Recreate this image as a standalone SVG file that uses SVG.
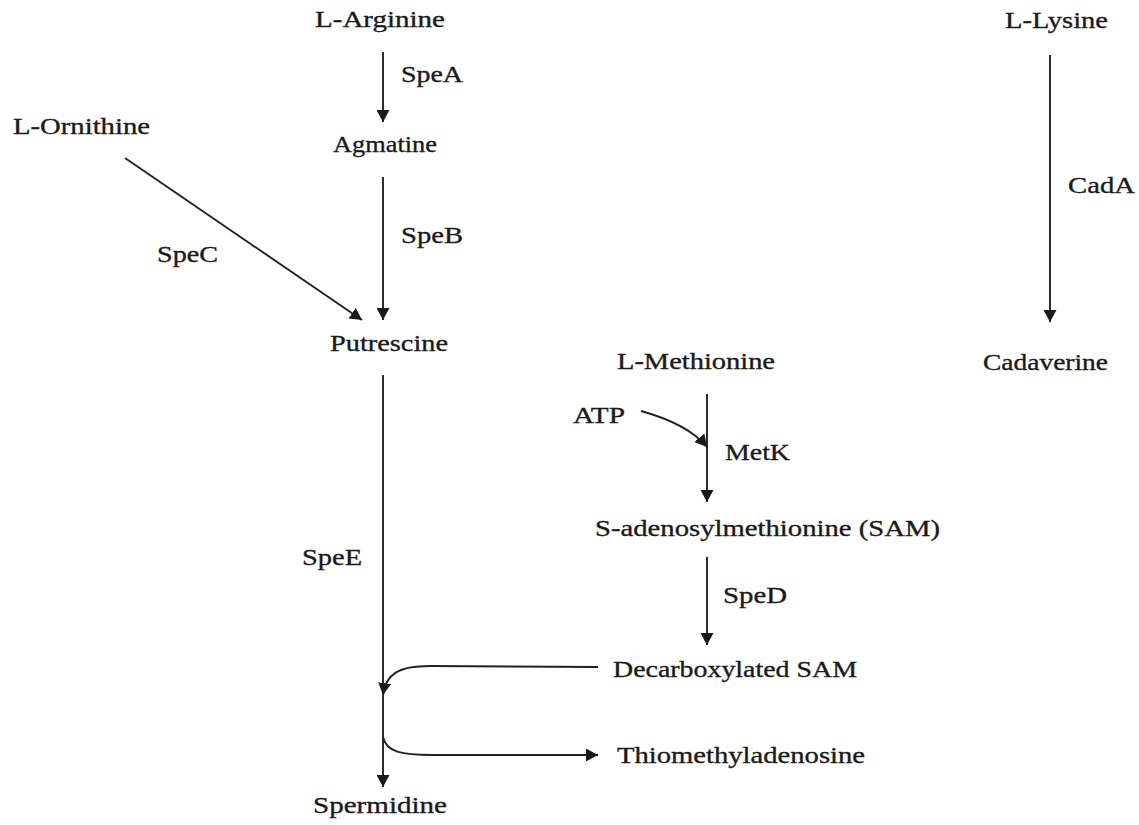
<svg xmlns="http://www.w3.org/2000/svg" width="1139" height="825" viewBox="0 0 1139 825">
<style>
text{font-family:"Liberation Serif","Times New Roman",serif;font-size:24px;fill:#1a1a1a;stroke:#1a1a1a;stroke-width:0.35}
.c{fill:none;stroke:#222;stroke-width:1.9}
</style>
<defs>
<marker id="ah" viewBox="0 0 12 13" refX="12" refY="6.5" markerWidth="12" markerHeight="13" markerUnits="userSpaceOnUse" orient="auto">
<path d="M0,0 L12,6.5 L0,13 z" fill="#1a1a1a"/>
</marker>
</defs>
<rect width="1139" height="825" fill="#fff"/>
<g id="connectors">
<path class="c" d="M383,52 V122" marker-end="url(#ah)"/>
<path class="c" d="M383,177 V320" marker-end="url(#ah)"/>
<path class="c" d="M125,158 L362,320" marker-end="url(#ah)"/>
<path class="c" d="M383,375 V787" marker-end="url(#ah)"/>
<path class="c" d="M598,667 L430,666 C398,666 386,674 383,695" marker-end="url(#ah)"/>
<path class="c" d="M383,737 C386,752 402,755 432,755 L598,755" marker-end="url(#ah)"/>
<path class="c" d="M707,394 V502" marker-end="url(#ah)"/>
<path class="c" d="M641,411 Q688,424 707,447" marker-end="url(#ah)"/>
<path class="c" d="M707,557 V645" marker-end="url(#ah)"/>
<path class="c" d="M1050,55 V322" marker-end="url(#ah)"/>
</g>
<g id="n-arginine"><text x="315" y="27" textLength="130" lengthAdjust="spacingAndGlyphs">L-Arginine</text></g>
<g id="l-spea"><text x="401" y="82" textLength="62" lengthAdjust="spacingAndGlyphs">SpeA</text></g>
<g id="n-agmatine"><text x="333" y="152" textLength="104" lengthAdjust="spacingAndGlyphs">Agmatine</text></g>
<g id="n-ornithine"><text x="13" y="134" textLength="137" lengthAdjust="spacingAndGlyphs">L-Ornithine</text></g>
<g id="l-speb"><text x="401" y="243" textLength="62" lengthAdjust="spacingAndGlyphs">SpeB</text></g>
<g id="l-spec"><text x="157" y="262" textLength="61" lengthAdjust="spacingAndGlyphs">SpeC</text></g>
<g id="n-putrescine"><text x="330" y="351" textLength="118" lengthAdjust="spacingAndGlyphs">Putrescine</text></g>
<g id="l-spee"><text x="302" y="565" textLength="60" lengthAdjust="spacingAndGlyphs">SpeE</text></g>
<g id="n-spermidine"><text x="313" y="813" textLength="134" lengthAdjust="spacingAndGlyphs">Spermidine</text></g>
<g id="n-methionine"><text x="617" y="369" textLength="158" lengthAdjust="spacingAndGlyphs">L-Methionine</text></g>
<g id="n-atp"><text x="573" y="423" textLength="52" lengthAdjust="spacingAndGlyphs">ATP</text></g>
<g id="l-metk"><text x="725" y="460" textLength="65" lengthAdjust="spacingAndGlyphs">MetK</text></g>
<g id="n-sam"><text x="595" y="536" textLength="345" lengthAdjust="spacingAndGlyphs">S-adenosylmethionine (SAM)</text></g>
<g id="l-sped"><text x="723" y="603" textLength="64" lengthAdjust="spacingAndGlyphs">SpeD</text></g>
<g id="n-dcsam"><text x="613" y="677" textLength="244" lengthAdjust="spacingAndGlyphs">Decarboxylated SAM</text></g>
<g id="n-mta"><text x="617" y="763" textLength="248" lengthAdjust="spacingAndGlyphs">Thiomethyladenosine</text></g>
<g id="n-lysine"><text x="1005" y="28" textLength="103" lengthAdjust="spacingAndGlyphs">L-Lysine</text></g>
<g id="l-cada"><text x="1068" y="193" textLength="67" lengthAdjust="spacingAndGlyphs">CadA</text></g>
<g id="n-cadaverine"><text x="983" y="370" textLength="125" lengthAdjust="spacingAndGlyphs">Cadaverine</text></g>
</svg>
